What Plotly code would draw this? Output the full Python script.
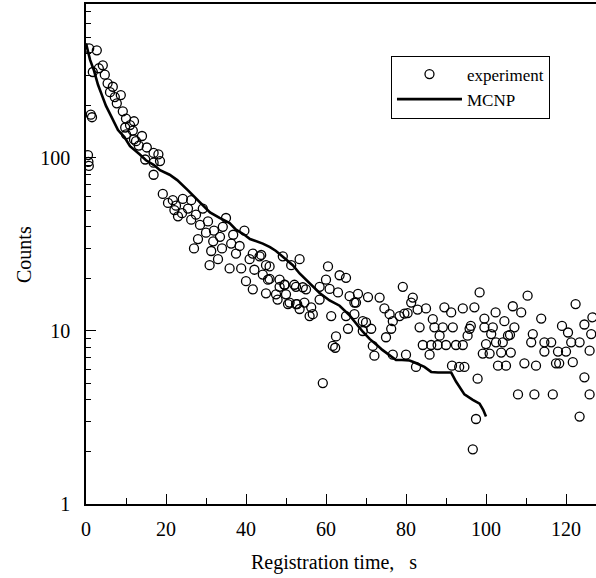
import plotly.graph_objects as go

# Experimental data (time s, counts)
exp_t = [0.5, 0.6, 0.7, 0.8, 1.2, 1.5, 1.7, 2.7, 3.2, 4.2, 4.7, 5.4, 6.0, 6.7, 7.2, 7.7, 8.7, 9.2, 9.8,
         10.0, 10.0, 11.0, 11.7, 12.0, 12.0, 12.5, 13.2, 14.0, 14.8, 15.2, 16.9, 16.9, 16.9, 18.1, 18.5,
         19.2, 20.5, 21.7, 22.1, 22.5, 23.0, 24.0, 24.2, 25.5, 26.3, 26.3, 27.0, 27.5, 28.0, 28.5, 29.2,
         30.0, 30.5, 30.9, 31.3, 31.8, 32.0, 33.0, 33.5, 34.0, 34.2, 35.0, 35.9, 36.3, 36.8, 37.5, 38.4,
         38.8, 39.6, 40.0, 40.9, 41.7, 41.7, 42.1, 43.4, 43.8, 44.2, 45.0, 45.0, 45.5, 45.9, 45.9, 47.5,
         47.9, 48.4, 48.4, 49.2, 49.6, 49.7, 50.0, 50.5, 50.9, 51.3, 52.1, 52.5, 52.5, 52.8, 53.4, 53.4,
         54.2, 54.6, 55.0, 55.9, 56.3, 56.7, 58.4, 58.4, 59.2, 60.0, 60.5, 60.9, 61.3, 61.7, 62.3, 62.5,
         63.0, 63.4, 65.0, 65.0, 65.5, 65.9, 67.1, 67.1, 67.5, 68.0, 69.2, 69.2, 70.0, 70.5, 71.3, 71.7,
         72.1, 73.4, 74.6, 75.0, 75.9, 76.3, 76.7, 76.7, 78.4, 79.2, 79.6, 80.0, 80.4, 81.3, 81.7, 82.5,
         82.9, 83.4, 84.2, 85.0, 85.9, 86.3, 86.7, 87.1, 87.9, 88.4, 89.2, 89.6, 90.0, 91.3, 91.5, 91.7,
         92.5, 93.3, 94.2, 94.2, 94.6, 95.4, 95.9, 96.2, 96.7, 97.1, 97.5, 97.9, 98.4, 99.2, 99.6, 99.6,
         100.0, 100.9, 101.3, 101.7, 102.4, 102.5, 103.0, 103.8, 104.2, 104.6, 105.0, 105.5, 106.0, 106.2,
         106.7, 107.1, 108.0, 108.8, 109.6, 110.4, 111.3, 111.7, 112.1, 112.5, 113.8, 114.6, 114.6, 116.3,
         116.7, 117.5, 118.0, 118.3, 119.0, 120.0, 120.5, 121.3, 121.7, 122.4, 123.4, 123.4, 124.6, 124.6,
         125.9, 125.9, 126.3, 126.6]
exp_c = [104, 95, 90, 430, 178, 172, 314, 419, 330, 343, 303, 270, 240, 258, 225, 207, 231, 186, 150,
         169, 137, 155, 144, 163, 128, 125, 118, 134, 98, 115, 107, 94, 80, 105, 96,
         62, 55, 57, 50, 53, 46, 48, 58, 51, 57, 44, 30, 47, 34, 41, 51,
         37, 43, 24, 29, 33, 38, 26, 35, 30, 40, 45, 23, 32, 36, 28, 31,
         23, 38, 19.4, 26, 28, 17.4, 22.6, 27, 27.5, 21.2, 24, 16.5, 19.8, 23.6, 20, 16.3,
         15.2, 18, 19.8, 27, 18.5, 18.5, 16.3, 14.3, 14.6, 24, 18.5, 18, 14.3, 14.3, 26, 13.4,
         17.9, 14.6, 17.4, 12.2, 13.7, 12.5, 15.2, 18, 5.0, 19.8, 23.6, 17.5, 12.2, 8.2, 8.0, 9.3,
         16.7, 21, 20.3, 12.2, 10.3, 15.9, 14.6, 12.5, 14.6, 16.4, 11.4, 10.0, 11.2, 15.7, 10.3, 8.2,
         7.2, 15.6, 13.5, 9.2, 12.5, 10.3, 11.4, 7.3, 12.2, 18, 12.6, 7.3, 12.7, 14.6, 15.6, 6.2,
         13.3, 10.5, 8.3, 13.5, 7.3, 8.3, 11.7, 10.5, 8.3, 9.4, 10.5, 13.7, 8.3, 12.8, 6.3, 10.5,
         8.3, 6.2, 13.5, 8.3, 6.2, 9.4, 10.3, 10.7, 2.07, 13.7, 3.1, 5.3, 16.7, 7.4, 11.8, 10.5,
         8.4, 7.4, 9.6, 10.5, 12.8, 8.6, 6.3, 7.5, 8.6, 11.4, 6.3, 9.4, 9.5, 7.5,
         13.9, 10.5, 4.3, 12.8, 6.5, 16, 8.6, 9.6, 4.3, 6.3, 11.8, 8.6, 7.6, 8.6,
         4.3, 6.5, 7.6, 6.5, 10.7, 7.6, 9.8, 8.6, 6.6, 14.3, 8.6, 3.2, 10.9, 5.4,
         7.7, 4.3, 9.6, 12.0]

# MCNP simulation curve
mcnp_t = [0, 1, 2, 3, 4, 5, 6, 7, 8, 9.6, 11, 13.4, 15, 17, 18.5, 20.9, 22.8, 25.5, 27, 29.2,
          31, 33.4, 35.9, 37.5, 39.6, 41, 42.5, 44.2, 46, 47.5, 49.5, 51.7, 53.4, 55.9, 58.4,
          60.9, 63.4, 65.9, 67.5, 69.2, 70.9, 72, 73, 74, 75, 77.5, 79, 80.9, 82, 83, 84.6, 86.3,
          88, 90, 91.3, 92.5, 94.6, 96.7, 98.4, 99.3, 100]
mcnp_c = [460, 370, 320, 265, 230, 200, 180, 163, 145, 132, 117, 105, 97, 91, 85, 80, 74.5, 65, 60, 53,
          48.5, 45, 42, 38.5, 36, 34, 33, 32, 30.5, 29, 26.5, 24, 21.5, 18.8, 16.6,
          15, 14, 12.3, 11, 9.9, 9.0, 8.6, 8.2, 7.8, 7.5, 6.8, 6.8, 6.75, 6.6, 6.45, 6.2, 5.8,
          5.75, 5.75, 5.75, 5.1, 4.3, 4.0, 3.8, 3.5, 3.2]

x_ticks = [0, 20, 40, 60, 80, 100, 120]
y_ticks = [1, 10, 100]
y_ticktext = ["1", "10", "100"]

FONT = "Liberation Serif"

fig = go.Figure()
fig.add_trace(go.Scatter(
    x=exp_t, y=exp_c, mode="markers", name="experiment",
    marker=dict(symbol="circle-open", size=9, color="black", line=dict(width=1.3, color="black")),
))
fig.add_trace(go.Scatter(
    x=mcnp_t, y=mcnp_c, mode="lines", name="MCNP",
    line=dict(color="black", width=2.6),
))

fig.update_layout(
    width=596, height=578,
    margin=dict(l=86, r=0, t=4, b=74),
    paper_bgcolor="white", plot_bgcolor="white",
    font=dict(family=FONT, size=20, color="black"),
    showlegend=True,
    legend=dict(
        x=0.598, y=0.897, xanchor="left", yanchor="top",
        bgcolor="white", bordercolor="black", borderwidth=1,
        font=dict(family=FONT, size=17, color="black"),
        itemwidth=65, tracegroupgap=0,
    ),
    xaxis=dict(
        range=[0, 127.5], showgrid=False, zeroline=False,
        showline=True, linecolor="black", linewidth=1.5, mirror=True,
        ticks="inside", ticklen=10, tickwidth=1.3, tickcolor="black",
        tickvals=x_ticks, ticklabelstandoff=6,
        minor=dict(ticks="inside", ticklen=6, tickwidth=1.3, tickcolor="black", dtick=10, showgrid=False),
    ),
    yaxis=dict(
        type="log", range=[0, 2.89], showgrid=False, zeroline=False,
        showline=True, linecolor="black", linewidth=1.5, mirror=False,
        ticks="inside", ticklen=10, tickwidth=1.3, tickcolor="black",
        tickvals=y_ticks, ticktext=y_ticktext, ticklabelstandoff=10,
        minor=dict(ticks="inside", ticklen=5, tickwidth=1.3, tickcolor="black", dtick="D1", showgrid=False),
    ),
    annotations=[
        dict(text="Registration time,\u00a0\u00a0\u00a0s", xref="paper", yref="paper",
             x=0.486, y=-0.118, xanchor="center", yanchor="middle", showarrow=False,
             font=dict(family=FONT, size=20, color="black")),
        dict(text="Counts", xref="paper", yref="paper", textangle=-90,
             x=-0.1216, y=0.5, xanchor="center", yanchor="middle", showarrow=False,
             font=dict(family=FONT, size=20, color="black")),
    ],
)

fig.write_html("out.html")
